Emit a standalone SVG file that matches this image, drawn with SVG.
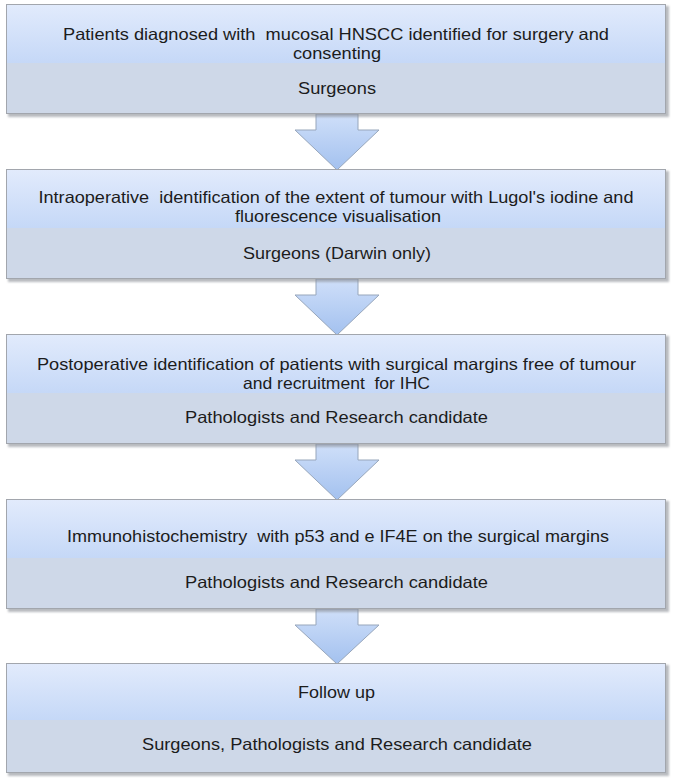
<svg xmlns="http://www.w3.org/2000/svg" width="674" height="783" viewBox="0 0 674 783">
<defs>
<linearGradient id="topg" x1="0" y1="0" x2="0" y2="1">
<stop offset="0" stop-color="#e2ebfc"/>
<stop offset="1" stop-color="#c5d8f7"/>
</linearGradient>
<linearGradient id="arrg" x1="0" y1="0" x2="0" y2="1">
<stop offset="0" stop-color="#cfdff9"/>
<stop offset="1" stop-color="#a3c1ef"/>
</linearGradient>
<filter id="sh" x="-5%" y="-10%" width="110%" height="130%">
<feGaussianBlur stdDeviation="1.2"/>
</filter>
</defs>
<style>
.shadow{fill:#8a8e96;opacity:0.6;filter:url(#sh)}
.top{fill:url(#topg)}
.bot{fill:#ced8e8}
.frame{fill:none;stroke:#a2a6ad;stroke-width:1}
.arrow{fill:url(#arrg);stroke:#97a6bb;stroke-width:1}
text{font-family:"Liberation Sans",Arial,sans-serif;font-size:16.5px;fill:#1c1c1c;text-anchor:middle;white-space:pre}
</style>
<rect width="674" height="783" fill="#ffffff"/>

<g id="connectors">
<path class="arrow" d="M316,114 L358,114 L358,130 L379,130 L337,170 L295,130 L316,130 Z"/>
<path class="arrow" d="M316,279 L358,279 L358,295 L379,295 L337,335 L295,295 L316,295 Z"/>
<path class="arrow" d="M316,444 L358,444 L358,460 L379,460 L337,500 L295,460 L316,460 Z"/>
<path class="arrow" d="M316,609 L358,609 L358,625 L379,625 L337,664 L295,625 L316,625 Z"/>
</g>

<g id="node1">
<rect class="shadow" x="8" y="6" width="661" height="111"/>
<rect class="top" x="6" y="4" width="660" height="59"/>
<rect class="bot" x="6" y="63" width="660" height="51"/>
<rect class="frame" x="6.5" y="4.5" width="659" height="109"/>
<text x="336" y="40" textLength="546" lengthAdjust="spacingAndGlyphs" xml:space="preserve">Patients diagnosed with  mucosal HNSCC identified for surgery and</text>
<text x="337" y="59" textLength="88" lengthAdjust="spacingAndGlyphs">consenting</text>
<text x="337" y="94" textLength="78" lengthAdjust="spacingAndGlyphs">Surgeons</text>
</g>

<g id="node2">
<rect class="shadow" x="8" y="171" width="661" height="111"/>
<rect class="top" x="6" y="169" width="660" height="59"/>
<rect class="bot" x="6" y="228" width="660" height="51"/>
<rect class="frame" x="6.5" y="169.5" width="659" height="109"/>
<text x="336" y="203" textLength="595" lengthAdjust="spacingAndGlyphs" xml:space="preserve">Intraoperative  identification of the extent of tumour with Lugol's iodine and</text>
<text x="338" y="222" textLength="206" lengthAdjust="spacingAndGlyphs">fluorescence visualisation</text>
<text x="337" y="259" textLength="188" lengthAdjust="spacingAndGlyphs">Surgeons (Darwin only)</text>
</g>

<g id="node3">
<rect class="shadow" x="8" y="336" width="661" height="111"/>
<rect class="top" x="6" y="334" width="660" height="59"/>
<rect class="bot" x="6" y="393" width="660" height="51"/>
<rect class="frame" x="6.5" y="334.5" width="659" height="109"/>
<text x="336.5" y="370" textLength="599" lengthAdjust="spacingAndGlyphs">Postoperative identification of patients with surgical margins free of tumour</text>
<text x="336.5" y="389" textLength="187" lengthAdjust="spacingAndGlyphs" xml:space="preserve">and recruitment  for IHC</text>
<text x="336.5" y="423" textLength="303" lengthAdjust="spacingAndGlyphs">Pathologists and Research candidate</text>
</g>

<g id="node4">
<rect class="shadow" x="8" y="501" width="661" height="111"/>
<rect class="top" x="6" y="499" width="660" height="59"/>
<rect class="bot" x="6" y="558" width="660" height="51"/>
<rect class="frame" x="6.5" y="499.5" width="659" height="109"/>
<text x="338" y="542" textLength="542" lengthAdjust="spacingAndGlyphs" xml:space="preserve">Immunohistochemistry  with p53 and e IF4E on the surgical margins</text>
<text x="336.5" y="588" textLength="303" lengthAdjust="spacingAndGlyphs">Pathologists and Research candidate</text>
</g>

<g id="node5">
<rect class="shadow" x="8" y="665" width="661" height="111"/>
<rect class="top" x="6" y="663" width="660" height="57"/>
<rect class="bot" x="6" y="720" width="660" height="53"/>
<rect class="frame" x="6.5" y="663.5" width="659" height="109"/>
<text x="336.5" y="698" textLength="77" lengthAdjust="spacingAndGlyphs">Follow up</text>
<text x="337" y="750" textLength="390" lengthAdjust="spacingAndGlyphs">Surgeons, Pathologists and Research candidate</text>
</g>
</svg>
